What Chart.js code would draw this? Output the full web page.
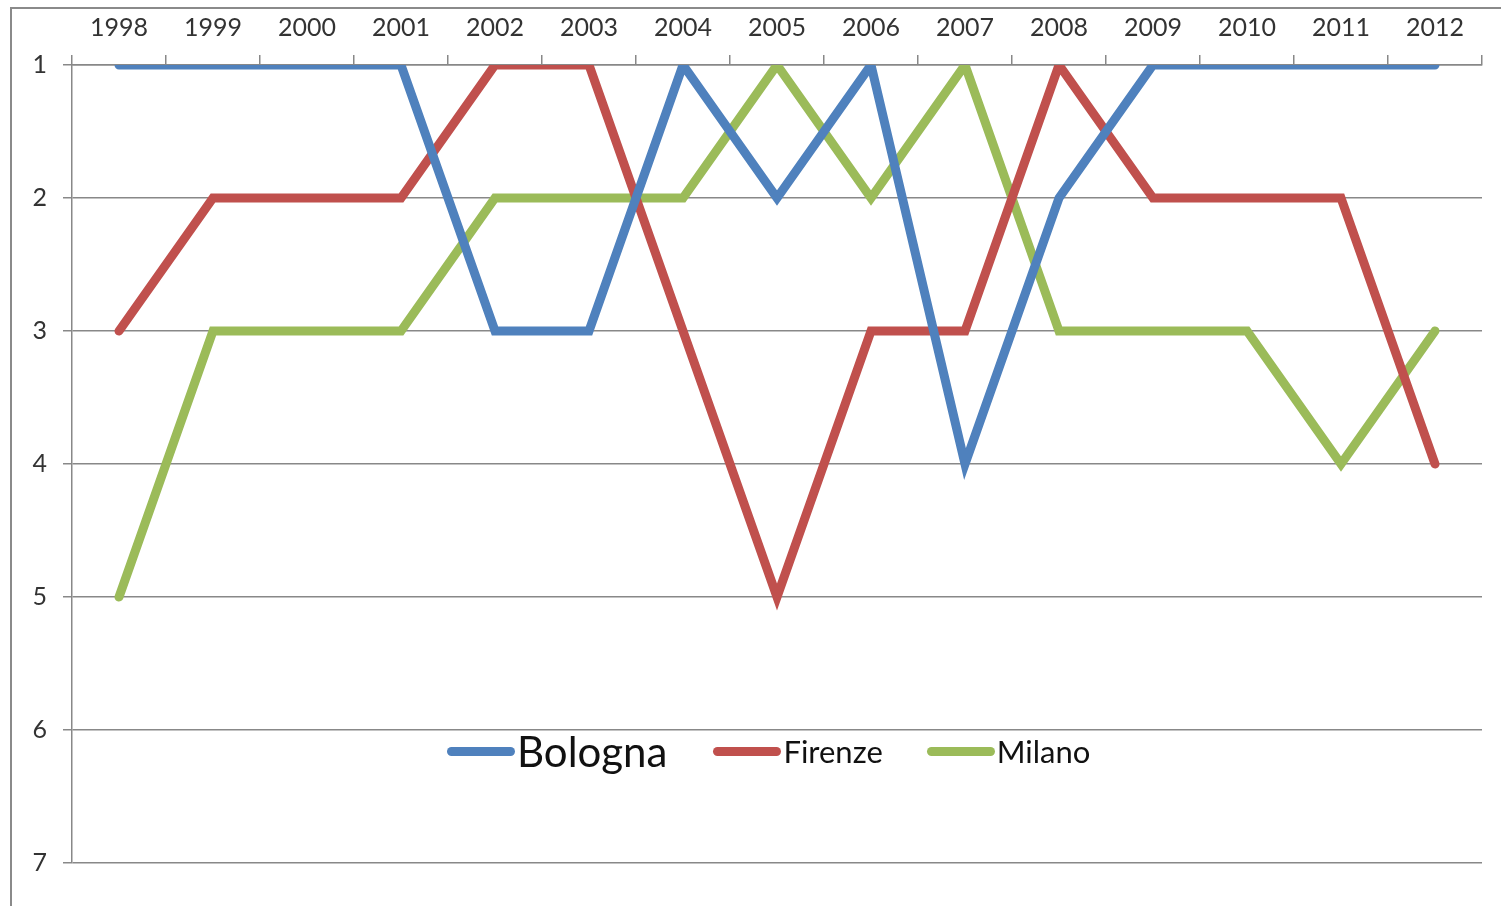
<!DOCTYPE html>
<html lang="it">
<head>
    <meta charset="UTF-8">
    <title>Classifica</title>
    <script src="https://cdn.jsdelivr.net/npm/chart.js"></script>
    <style>
        body {
            margin: 0;
            width: 1501px;
            height: 906px;
            overflow: hidden;
            background: #fff;
            font-family: Lato, sans-serif;
        }
        #frame {
            position: absolute;
            left: 10px;
            top: 7px;
            width: 1600px;
            height: 1000px;
            border-left: 2px solid #8a8a8a;
            border-top: 2px solid #8a8a8a;
        }
        #wrap {
            position: absolute;
            left: 0;
            top: 0;
            width: 1501px;
            height: 906px;
        }
        #legend {
            position: absolute;
            top: 726px;
            left: 447px;
            display: flex;
            align-items: center;
            color: #111;
        }
        .item { display: flex; align-items: center; }
        .swatch {
            width: 68px;
            height: 9px;
            border-radius: 5px;
            margin-right: 2px;
        }
    </style>
</head>
<body>
    <div id="frame"></div>
    <div id="wrap"><canvas id="chart"></canvas></div>
    <div id="legend"></div>

    <script>
        const years = ['1998', '1999', '2000', '2001', '2002', '2003', '2004', '2005',
                       '2006', '2007', '2008', '2009', '2010', '2011', '2012'];
        const bologna = [1, 1, 1, 1, 3, 3, 1, 2, 1, 4, 2, 1, 1, 1, 1];
        const firenze = [3, 2, 2, 2, 1, 1, 3, 5, 3, 3, 1, 2, 2, 2, 4];
        const milano  = [5, 3, 3, 3, 2, 2, 2, 1, 2, 1, 3, 3, 3, 4, 3];

        const series = [
            { name: 'Bologna', data: bologna, color: '#4f81bd', size: 42 },
            { name: 'Firenze', data: firenze, color: '#c0504d', size: 31 },
            { name: 'Milano',  data: milano,  color: '#9bbb59', size: 31 }
        ];

        const gridColor = '#888888';

        const ctx = document.getElementById('chart').getContext('2d');
        new Chart(ctx, {
            type: 'line',
            data: {
                labels: years,
                datasets: series.map(s => ({
                    label: s.name,
                    data: s.data,
                    borderColor: s.color,
                    backgroundColor: s.color,
                    borderWidth: 9,
                    pointRadius: 0,
                    tension: 0,
                    borderCapStyle: 'round',
                    borderJoinStyle: 'miter',
                    fill: false
                }))
            },
            options: {
                responsive: true,
                maintainAspectRatio: false,
                animation: false,
                layout: { padding: { left: 0, top: 0, right: 19, bottom: 43 } },
                plugins: {
                    legend: { display: false },
                    tooltip: { enabled: false }
                },
                scales: {
                    x: {
                        position: 'top',
                        offset: true,
                        afterFit: s => { s.height = 65; },
                        grid: {
                            display: true,
                            drawOnChartArea: false,
                            offset: true,
                            tickLength: 10,
                            color: gridColor,
                            lineWidth: 1.5
                        },
                        border: { display: true, color: gridColor, width: 1.5 },
                        ticks: {
                            color: '#333',
                            font: { family: 'Lato', size: 25 },
                            padding: 12,
                            maxRotation: 0,
                            autoSkip: false
                        }
                    },
                    y: {
                        reverse: true,
                        min: 1,
                        max: 7,
                        afterFit: s => { s.width = 72; },
                        grid: {
                            color: gridColor,
                            lineWidth: 1.5,
                            tickLength: 9
                        },
                        border: { display: true, color: gridColor, width: 1.5 },
                        ticks: {
                            stepSize: 1,
                            color: '#333',
                            font: { family: 'Lato', size: 25 },
                            padding: 16
                        }
                    }
                }
            }
        });

        const legend = document.getElementById('legend');
        series.forEach((s, i) => {
            const item = document.createElement('div');
            item.className = 'item';
            if (i > 0) item.style.marginLeft = i === 1 ? '46px' : '44px';
            const sw = document.createElement('div');
            sw.className = 'swatch';
            sw.style.background = s.color;
            const txt = document.createElement('span');
            txt.textContent = s.name;
            txt.style.fontSize = s.size + 'px';
            item.appendChild(sw);
            item.appendChild(txt);
            legend.appendChild(item);
        });
    </script>
</body>
</html>
